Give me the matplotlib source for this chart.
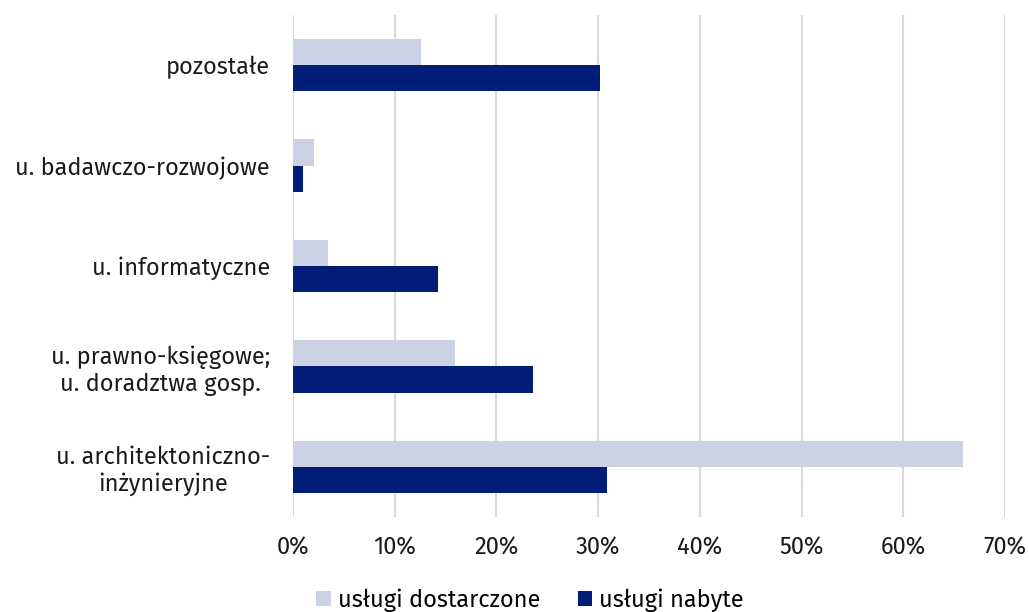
import matplotlib.pyplot as plt
import numpy as np

plt.rcParams['font.family'] = ['Fira Sans', 'Noto Sans', 'DejaVu Sans']

categories = ['u. architektoniczno-\ninżynieryjne', 'u. prawno-księgowe;\nu. doradztwa gosp.',
              'u. informatyczne', 'u. badawczo-rozwojowe', 'pozostałe']
dostarczone = [65.9, 15.9, 3.4, 2.1, 12.6]
nabyte = [30.9, 23.6, 14.3, 1.0, 30.2]
xticks = [0, 10, 20, 30, 40, 50, 60, 70]

light = '#CCD1E3'
dark = '#001D77'

fig = plt.figure(figsize=(10.29, 6.12), dpi=100)
ax = fig.add_axes([293 / 1029, 1 - 517 / 612, (1005 - 293) / 1029, (517 - 15) / 612])

y = np.arange(len(categories))
h = 0.26
ax.barh(y + h / 2, dostarczone, height=h, color=light, label='usługi dostarczone', zorder=3)
ax.barh(y - h / 2, nabyte, height=h, color=dark, label='usługi nabyte', zorder=3)

ax.set_xlim(0, 70)
ax.set_ylim(-0.5, 4.5)
ax.set_xticks(xticks)
ax.set_xticklabels([f'{t}%' for t in xticks], fontsize=17, color='#1a1a1a')
ax.set_yticks(y)
ax.set_yticklabels(categories, fontsize=17, color='#1a1a1a', ha='right', multialignment='center')
ax.tick_params(axis='y', length=0, pad=16.5)
ax.tick_params(axis='x', length=0, pad=14)
ax.grid(axis='x', color='#d9d9d9', linewidth=1.5, zorder=0)
for s in ax.spines.values():
    s.set_visible(False)

ax.legend(loc='upper center', bbox_to_anchor=(0.333, -0.1), ncol=2, frameon=False,
          fontsize=17, handlelength=0.6, handleheight=0.6, handletextpad=0.3, columnspacing=1.6)

fig.savefig('out.png', dpi=100)
